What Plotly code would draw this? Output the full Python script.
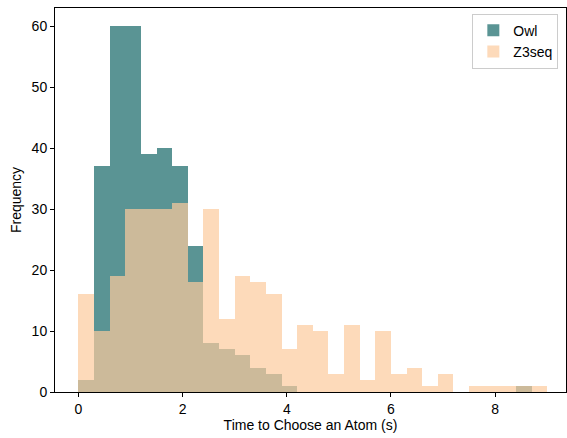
import plotly.graph_objects as go

bin_width = 0.3
bin_starts = [round(i * bin_width, 2) for i in range(30)]
owl_counts = [2, 37, 60, 60, 39, 40, 37, 24, 8, 7, 6, 4, 3, 1, 0,
              0, 0, 0, 0, 0, 0, 0, 0, 0, 0, 0, 0, 0, 1, 0]
z3seq_counts = [16, 10, 19, 30, 30, 30, 31, 18, 30, 12, 19, 18, 16, 7, 11,
                10, 3, 11, 2, 10, 3, 4, 1, 3, 0, 1, 1, 1, 1, 1]
x_ticks = [0, 2, 4, 6, 8]
y_ticks = [0, 10, 20, 30, 40, 50, 60]

centers = [s + bin_width / 2 for s in bin_starts]

fig = go.Figure()
fig.add_trace(go.Bar(x=centers, y=owl_counts, width=bin_width, name="Owl",
                     marker=dict(color="rgba(35,112,112,0.75)", line=dict(width=0))))
fig.add_trace(go.Bar(x=centers, y=z3seq_counts, width=bin_width, name="Z3seq",
                     marker=dict(color="rgba(252,202,156,0.7)", line=dict(width=0))))

axis_common = dict(showline=True, linecolor="black", linewidth=1, mirror=True,
                   ticks="outside", ticklen=4, tickcolor="black", showgrid=False,
                   zeroline=False, automargin=True,
                   tickfont=dict(size=14, color="black"))
fig.update_layout(
    width=567, height=438,
    margin=dict(l=55, r=1, t=8, b=46, autoexpand=False),
    barmode="overlay", bargap=0,
    plot_bgcolor="white", paper_bgcolor="white",
    font=dict(family="Liberation Sans, Arial, sans-serif", size=14, color="black"),
    xaxis=dict(range=[-0.45, 9.36], tickvals=x_ticks,
               title=dict(text="Time to Choose an Atom (s)", font=dict(size=14), standoff=4),
               **axis_common),
    yaxis=dict(range=[0, 63], tickvals=y_ticks,
               title=dict(text="Frequency", font=dict(size=14), standoff=6),
               **axis_common),
    legend=dict(x=0.985, y=0.985, xanchor="right", yanchor="top",
                bgcolor="rgba(255,255,255,0.8)", bordercolor="#cccccc", borderwidth=1,
                font=dict(size=14), tracegroupgap=0, itemwidth=30),
    showlegend=True,
)
fig.write_html("out.html", config={"displayModeBar": False},
               post_script="document.body.style.margin='0';document.body.style.overflow='hidden';")
